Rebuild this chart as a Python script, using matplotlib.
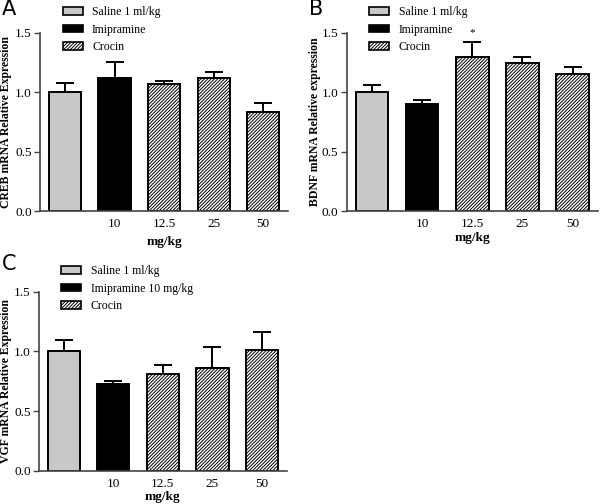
import numpy as np
import matplotlib
matplotlib.use('Agg')
import matplotlib.pyplot as plt
from matplotlib.patches import Patch

plt.rcParams['font.family'] = ['Liberation Serif', 'DejaVu Serif']
plt.rcParams['hatch.linewidth'] = 0.7

# data
doses = ['', '10', '12.5', '25', '50']
creb_mean = [1.00, 1.12, 1.07, 1.12, 0.835]
creb_err = [0.08, 0.13, 0.025, 0.05, 0.075]
bdnf_mean = [1.00, 0.905, 1.30, 1.245, 1.155]
bdnf_err = [0.065, 0.03, 0.12, 0.055, 0.055]
vgf_mean = [1.00, 0.73, 0.81, 0.865, 1.01]
vgf_err = [0.10, 0.025, 0.075, 0.17, 0.155]

groups = ['saline', 'imipramine', 'crocin', 'crocin', 'crocin']
gray = '#c8c8c8'
HATCH = '/' * 10


def bar_panel(ax, means, errs, ylabel, leg_labels, stars=None,
              xlabel_pad=4, ylabel_x=-0.113):
    x = np.arange(len(means))
    for i, (m, e) in enumerate(zip(means, errs)):
        g = groups[i]
        if g == 'saline':
            fc, hatch = gray, None
        elif g == 'imipramine':
            fc, hatch = 'black', None
        else:
            fc, hatch = 'white', HATCH
        ax.bar(x[i], m, width=0.65, color=fc, edgecolor='black',
               linewidth=1.4, hatch=hatch, zorder=2)
        ax.errorbar(x[i], m, yerr=[[0], [e]], fmt='none', ecolor='black',
                    elinewidth=1.4, capsize=6.5, capthick=1.4, zorder=1)
    if stars:
        for i, s in stars.items():
            ax.text(x[i], means[i] + errs[i] + 0.04, s, ha='center',
                    va='bottom', fontsize=8)

    ax.set_xlim(-0.5, 4.5)
    ax.set_ylim(0, 1.5)
    ax.set_yticks([0, 0.5, 1.0, 1.5])
    ax.set_yticklabels(['0.0', '0.5', '1.0', '1.5'])
    ax.set_xticks(x)
    ax.set_xticklabels(doses)
    ax.tick_params(axis='x', length=0, labelsize=9.5, pad=5)
    ax.tick_params(axis='y', length=4, width=1, labelsize=9.5, color='#444444',
                   pad=2)
    for s in ['top', 'right']:
        ax.spines[s].set_visible(False)
    for s in ['left', 'bottom']:
        ax.spines[s].set_color('#444444')
        ax.spines[s].set_linewidth(1.2)
    ax.set_xlabel('mg/kg', fontsize=9.5, fontweight='bold', labelpad=xlabel_pad)
    ax.set_ylabel(ylabel, fontsize=8.5, fontweight='bold')
    ax.yaxis.set_label_coords(ylabel_x, 0.5)

    handles = [Patch(facecolor=gray, edgecolor='black', linewidth=1.2),
               Patch(facecolor='black', edgecolor='black', linewidth=1.2),
               Patch(facecolor='white', edgecolor='black', linewidth=1.2,
                     hatch=HATCH)]
    ax.legend(handles, leg_labels, loc='upper left',
              bbox_to_anchor=(0.071, 1.175), frameon=False, fontsize=8.5,
              handlelength=1.7, handleheight=0.63, handletextpad=0.8,
              labelspacing=0.45, borderaxespad=0)


fig = plt.figure(figsize=(6, 5.04), dpi=100)
ax_a = fig.add_axes([0.067, 0.581, 0.413, 0.354])
ax_b = fig.add_axes([0.578, 0.581, 0.418, 0.354])
ax_c = fig.add_axes([0.065, 0.066, 0.413, 0.355])

bar_panel(ax_a, creb_mean, creb_err, 'CREB mRNA Relative Expression',
          ['Saline 1 ml/kg', 'Imipramine', 'Crocin'])
bar_panel(ax_b, bdnf_mean, bdnf_err, 'BDNF mRNA Relative expression',
          ['Saline 1 ml/kg', 'Imipramine', 'Crocin'], stars={2: '*'},
          xlabel_pad=1, ylabel_x=-0.104)
bar_panel(ax_c, vgf_mean, vgf_err, 'VGF mRNA Relative Expression',
          ['Saline 1 ml/kg', 'Imipramine 10 mg/kg', 'Crocin'],
          xlabel_pad=1, ylabel_x=-0.109)

for lbl, xx, yy in [('A', 0.003, 1.002), ('B', 0.515, 1.002), ('C', 0.003, 0.497)]:
    fig.text(xx, yy, lbl, fontsize=15, family='DejaVu Sans', ha='left', va='top')

plt.savefig('out.png', dpi=100)
plt.close()
